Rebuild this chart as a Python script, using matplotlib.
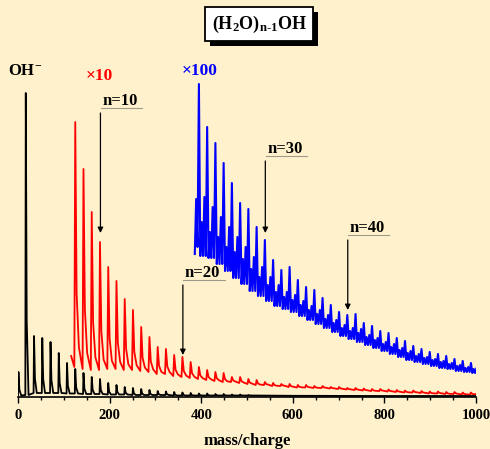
import numpy as np
import matplotlib
matplotlib.use("Agg")
import matplotlib.pyplot as plt
from matplotlib.patches import Rectangle

plt.rcParams['font.family'] = ['Liberation Serif', 'DejaVu Serif']
plt.rcParams['font.weight'] = 'bold'
plt.rcParams['mathtext.fontset'] = 'custom'
plt.rcParams['mathtext.rm'] = 'Liberation Serif:bold'
plt.rcParams['mathtext.it'] = 'Liberation Serif:bold'
plt.rcParams['mathtext.bf'] = 'Liberation Serif:bold'

bg = '#fff1cc'

# cluster peaks (H2O)n-1 OH-, mass = 17 + 18(n-1)
black_mz = [1, 17, 35, 53, 71, 89, 107, 125, 143, 161, 179, 197, 215, 233, 251,
            269, 287, 305, 323, 341, 359, 377, 395, 413, 431, 449, 467, 485, 503]
black_peak = [25, 304, 61, 59, 55, 44, 34, 28, 24, 20, 18, 14, 12, 10, 9,
              8, 7, 6, 5.5, 5, 4.5, 4, 3.5, 3.5, 3, 3, 2.5, 2.5, 2]
black_valley = [1.5, 2, 4, 4, 4, 4, 3.5, 3.5, 3, 3, 3, 2.5, 2.5, 2.5, 2,
                2, 2, 2, 2, 1.5, 1.5, 1.5, 1.5, 1.5, 1.5, 1.5, 1.5, 1.5, 1.5]
black_tail_mz = [600, 800, 1000]
black_tail_h = [1.2, 1, 1]

# x10 trace
red_start_mz = [116]
red_start_h = [41]
red_mz = [125, 143, 161, 179, 197, 215, 233, 251, 269, 287, 305, 323, 341, 359,
          377, 395, 413, 431, 449, 467, 485, 503, 521, 539, 557, 575, 593,
          611, 629, 647, 665, 683, 701, 719, 737, 755, 773, 791, 809, 827, 845,
          863, 881, 899, 917, 935, 953, 971, 989]
red_peak = [275, 228, 185, 155, 130, 116, 98, 87, 70, 60, 50, 48, 42, 40,
            35, 30, 27, 25, 24, 20, 20, 18, 17, 15, 14, 13, 13,
            12, 12, 11, 11, 10, 10, 9, 9, 8.5, 8, 8, 7.5, 7, 6.5,
            6.5, 6, 5.5, 5.5, 5, 5, 4.5, 4.5]
red_valley = [30, 28, 27, 27, 28, 28, 27, 27, 26, 25, 23, 23, 21, 20,
              19, 18, 17, 16, 15, 15, 14, 13, 12, 12, 11, 11, 10,
              9.5, 9.5, 9, 9, 8.5, 8, 7.5, 7, 6.5, 6, 6, 5.5, 5, 4.5,
              4.5, 4, 3.5, 3.5, 3, 3, 2.5, 2.5]
red_end_mz = [1000]
red_end_h = [3]

# x100 trace
blue_start_mz = [386, 389, 392]
blue_start_h = [143, 198, 150]
blue_mz = [395, 413, 431, 449, 467, 485, 503, 521, 539, 557, 575, 593, 611, 629,
           647, 665, 683, 701, 719, 737, 755, 773, 791, 809, 827, 845, 863, 881,
           899, 917, 935, 953, 971, 989]
blue_peak = [313, 270, 254, 234, 214, 194, 188, 170, 157, 137, 127, 130, 117, 110,
             107, 99, 92, 85, 82, 83, 74, 71, 66, 64, 59, 56, 51, 48,
             45, 43, 41, 38, 36, 34]
blue_sub = [200, 190, 180, 170, 160, 150, 140, 130, 120, 112, 105, 102, 96, 91,
            87, 82, 77, 72, 69, 68, 62, 59, 55, 53, 49, 46, 43, 40,
            38, 36, 34, 32, 30, 29]
blue_sub2 = [175, 165, 160, 150, 145, 138, 128, 120, 112, 105, 100, 97, 92, 87,
             83, 78, 74, 69, 66, 64, 60, 57, 53, 50, 47, 44, 41, 39,
             37, 35, 33, 31, 29, 28]
blue_valley = [141, 139, 133, 126, 119, 113, 106, 101, 96, 91, 88, 85, 81, 77,
               73, 69, 65, 61, 58, 55, 52, 49, 46, 43, 40, 37, 35, 33,
               31, 29, 28, 26, 25, 24]

labels_n = ['n=10', 'n=20', 'n=30', 'n=40']
labels_mz = [179, 359, 539, 719]
label_h = [296, 124, 248, 169]
arrow_tip_h = [164, 42, 164, 87]

fig = plt.figure(figsize=(4.9, 4.49), dpi=100, facecolor=bg)
ax = fig.add_axes([18 / 490, 52 / 449, 458 / 490, 397 / 449])
ax.set_facecolor('none')

# black: sharp spikes
bx, by = [0], [1.5]
for m, p, v in zip(black_mz, black_peak, black_valley):
    bx += [m - 1, m, m + 2, m + 6]
    by += [v, p, v + (p - v) * 0.25, v]
bx += black_tail_mz
by += black_tail_h
ax.plot(bx, by, color='black', lw=1.3, zorder=3)

# red: sharp rise, decaying tail
rx, ry = list(red_start_mz), list(red_start_h)
for m, p, v in zip(red_mz, red_peak, red_valley):
    rx += [m - 2, m, m + 3, m + 8]
    ry += [v, p, v + (p - v) * 0.3, v + (p - v) * 0.08]
rx += red_end_mz
ry += red_end_h
ax.plot(rx, ry, color='#ff0000', lw=1.3, zorder=2)

# blue
ux, uy = list(blue_start_mz), list(blue_start_h)
for m, p, s, s2, v in zip(blue_mz, blue_peak, blue_sub, blue_sub2, blue_valley):
    ux += [m, m + 3, m + 6, m + 9, m + 12, m + 15]
    uy += [p, v, s2, v, s, v]
ax.plot(ux, uy, color='#0000ff', lw=1.5, zorder=2)

ax.set_xlim(0, 1000)
ax.set_ylim(0, 397)
for s in ['left', 'right', 'top']:
    ax.spines[s].set_visible(False)
ax.spines['bottom'].set_linewidth(1.2)
ax.set_yticks([])
ax.set_xticks(np.arange(0, 1001, 200))
ax.set_xticks(np.arange(0, 1001, 50), minor=True)
ax.tick_params(axis='x', which='major', direction='out', length=4.5, width=1,
               labelsize=10.5, pad=4)
ax.tick_params(axis='x', which='minor', direction='out', length=2.5, width=1)
for t in ax.get_xticklabels():
    t.set_fontweight('bold')
ax.set_xlabel('mass/charge', fontsize=12, fontweight='bold', labelpad=8)

ax.text(15, 326, r'OH$^{-}$', fontsize=12, ha='center', va='center', fontweight='bold')
ax.text(177, 321, '×10', fontsize=12.5, ha='center', va='center', color='#ff0000',
        fontweight='bold')
ax.text(397, 326, '×100', fontsize=12.5, ha='center', va='center', color='#0000ff',
        fontweight='bold')

# n labels with underline and arrow
for lab, m, h, tip in zip(labels_n, labels_mz, label_h, arrow_tip_h):
    ax.text(m + 44, h, lab, fontsize=12, ha='center', va='center', fontweight='bold')
    ax.plot([m + 2, m + 92], [h - 7, h - 7], color='#a09a88', lw=0.8)
    ax.annotate('', xy=(m + 1, tip), xytext=(m + 1, h - 12),
                arrowprops=dict(arrowstyle='-|>', color='black', lw=0.9,
                                mutation_scale=8, shrinkA=0, shrinkB=0))

title = r'(H$_2$O)$_{n\text{-}1}$OH'
tt = ax.text(526, 373, title, fontsize=13, ha='center', va='center', color='black',
             zorder=6,
             bbox=dict(boxstyle='square,pad=0.35', facecolor='white', edgecolor='black',
                       lw=1.3))
fig.canvas.draw()
bb = tt.get_bbox_patch().get_window_extent()
shadow = Rectangle((bb.x0 + 5, bb.y0 - 5), bb.width, bb.height,
                   transform=None, facecolor='black', edgecolor='none',
                   zorder=5, clip_on=False)
ax.add_patch(shadow)

fig.savefig('out.png', dpi=100, facecolor=bg)
